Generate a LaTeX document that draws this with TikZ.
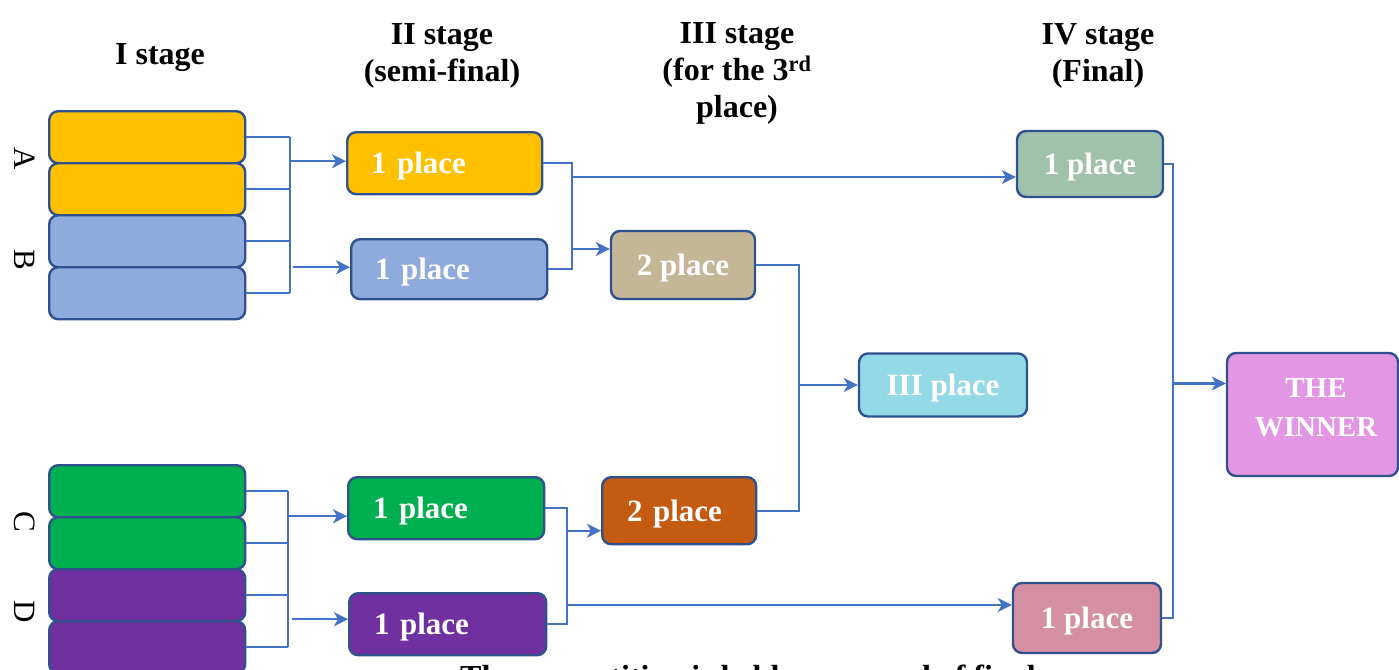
\documentclass[tikz,border=0pt]{standalone}
\usepackage{fontspec}
\setmainfont{Liberation Serif}
\usetikzlibrary{arrows.meta,calc}
\definecolor{boxline}{HTML}{2F528F}
\definecolor{conncol}{HTML}{4472C4}
\definecolor{amber}{HTML}{FFC000}
\definecolor{lblue}{HTML}{8FAADC}
\definecolor{grn}{HTML}{00B050}
\definecolor{purp}{HTML}{7030A0}
\definecolor{tan}{HTML}{C4B696}
\definecolor{orng}{HTML}{C55A11}
\definecolor{cyanb}{HTML}{93D9E6}
\definecolor{sage}{HTML}{A0C1AA}
\definecolor{pinkb}{HTML}{D48FA3}
\definecolor{orchid}{HTML}{E396E3}
\begin{document}
\begin{tikzpicture}[x=1pt,y=-1pt,
  box/.style={draw=boxline, line width=2.4pt, rounded corners=9pt, inner sep=0pt},
  lbox/.style={box, anchor=north west, align=left, text=white, text depth=0pt,
    font=\fontsize{31}{36}\selectfont\bfseries},
  cbox/.style={box, align=center, text=white, text depth=0pt,
    font=\fontsize{31}{36}\selectfont\bfseries},
  head/.style={align=center, font=\fontsize{32}{37}\selectfont\bfseries},
  grp/.style={font=\fontsize{31}{36}\selectfont, rotate=-90},
  conn/.style={draw=conncol, line width=2.4pt},
  arr/.style={conn, -{Stealth[length=14pt,width=14pt,inset=4pt]}}]
\useasboundingbox (0,0) rectangle (1399,669);
\clip (0,0) rectangle (1399,669);

% headers
\node[head] (h1) at (160,58) {I stage};
\node[head] (h2) at (442,56) {II stage\\(semi-final)};
\node[head] (h3) at (737,73) {III stage\\(for the 3\textsuperscript{rd}\\place)};
\node[head] (h4) at (1098,56) {IV stage\\(Final)};

% group labels
\node[grp] (la) at (25,159) {A};
\node[grp] (lb) at (25,260) {B};
\node[grp] (lc) at (25,522) {C};
\node[grp] (ld) at (25,612) {D};

% stage I boxes
\node[box, fill=amber, anchor=north west, minimum width=196pt, minimum height=52pt] (a1) at (48,110) {};
\node[box, fill=amber, anchor=north west, minimum width=196pt, minimum height=52pt] (a2) at (48,162) {};
\node[box, fill=lblue, anchor=north west, minimum width=196pt, minimum height=52pt] (b1) at (48,214) {};
\node[box, fill=lblue, anchor=north west, minimum width=196pt, minimum height=52pt] (b2) at (48,266) {};
\node[box, fill=grn, anchor=north west, minimum width=196pt, minimum height=52pt] (c1) at (48,464) {};
\node[box, fill=grn, anchor=north west, minimum width=196pt, minimum height=52pt] (c2) at (48,516) {};
\node[box, fill=purp, anchor=north west, minimum width=196pt, minimum height=52pt] (d1) at (48,568) {};
\node[box, fill=purp, anchor=north west, minimum width=196pt, minimum height=52pt] (d2) at (48,620) {};

% stage II boxes
\node[lbox, fill=amber, minimum height=62pt, text width=147pt, inner xsep=24pt] (aw) at (346,131) {1 place};
\node[lbox, fill=lblue, minimum height=60pt, text width=148pt, inner xsep=24pt] (bw) at (350,238) {1 place};
\node[lbox, fill=grn, minimum height=62pt, text width=146pt, inner xsep=25pt] (cw) at (347,476) {1 place};
\node[lbox, fill=purp, minimum height=62pt, text width=147pt, inner xsep=25pt] (dw) at (348,592) {1 place};

% stage III boxes
\node[cbox, fill=tan, minimum width=144pt, minimum height=68pt] (ts) at (683,265) {2 place};
\node[lbox, fill=orng, minimum height=67pt, text width=104pt, inner xsep=25pt] (os) at (601,476) {2 place};
\node[cbox, fill=cyanb, minimum width=168pt, minimum height=63pt] (third) at (943,385) {III place};

% stage IV boxes
\node[cbox, fill=sage, minimum width=146pt, minimum height=66pt] (ft) at (1090,164) {1 place};
\node[cbox, fill=pinkb, minimum width=148pt, minimum height=70pt] (fb) at (1087,618) {1 place};
\node[box, fill=orchid, minimum width=171pt, minimum height=123pt] (win) at (1312.5,414.5) {};
\node[align=center, text=white, font=\fontsize{29}{39}\selectfont\bfseries] (wintext) at (1316,408) {THE\\WINNER};

% bus coordinates
\coordinate (busAB) at (290,0);
\coordinate (busCD) at (288,0);
\coordinate (bus2T) at (572,0);
\coordinate (bus2B) at (567,0);
\coordinate (bus3) at (799,0);
\coordinate (bus4) at (1173,0);

% arrow target points
\coordinate (tA) at ($(aw.west)+(0,-2)$);
\coordinate (tB) at ($(bw.west)+(0,-2)$);
\coordinate (sB) at ($(tB)+(-57,0)$);
\coordinate (tC) at ($(cw.west)+(0,8)$);
\coordinate (tD) at ($(dw.west)+(0,-5)$);
\coordinate (sD) at ($(tD)+(-56,0)$);
\coordinate (tFT) at ($(ft.west)+(0,13)$);
\coordinate (tTS) at ($(ts.west)+(0,-16)$);
\coordinate (tOS) at ($(os.west)+(0,20)$);
\coordinate (tFB) at ($(fb.west)+(0,-13)$);
\coordinate (tW) at ($(win.west)+(0,-31)$);

% stage I -> II
\foreach \n in {a1,a2,b1,b2} {\draw[conn] (\n.east) -- (\n.east -| busAB);}
\draw[conn] (a1.east -| busAB) -- (b2.east -| busAB);
\draw[arr] (tA -| busAB) -- (tA);
\draw[arr] (sB) -- (tB);
\foreach \n in {c1,c2,d1,d2} {\draw[conn] (\n.east) -- (\n.east -| busCD);}
\draw[conn] (c1.east -| busCD) -- (d2.east -| busCD);
\draw[arr] (tC -| busCD) -- (tC);
\draw[arr] (sD) -- (tD);

% stage II -> III / IV
\draw[conn] (aw.east) -- (aw.east -| bus2T) -- (bw.east -| bus2T) -- (bw.east);
\draw[arr] (tFT -| bus2T) -- (tFT);
\draw[arr] (tTS -| bus2T) -- (tTS);
\draw[conn] (cw.east) -- (cw.east -| bus2B) -- (dw.east -| bus2B) -- (dw.east);
\draw[arr] (tOS -| bus2B) -- (tOS);
\draw[arr] (tFB -| bus2B) -- (tFB);

% stage III -> III place
\draw[conn] (ts.east) -- (ts.east -| bus3) -- (os.east -| bus3) -- (os.east);
\draw[arr] (third.west -| bus3) -- (third.west);

% final -> winner
\draw[conn] (ft.east) -- (ft.east -| bus4) -- (fb.east -| bus4) -- (fb.east);
\draw[arr] (tW -| bus4) -- (tW);

% clipped bottom caption
\node[anchor=base west, inner sep=0pt, font=\fontsize{32}{37}\selectfont\bfseries] (cap) at (460,687) {The competition is held as a round of final};
\end{tikzpicture}
\end{document}
